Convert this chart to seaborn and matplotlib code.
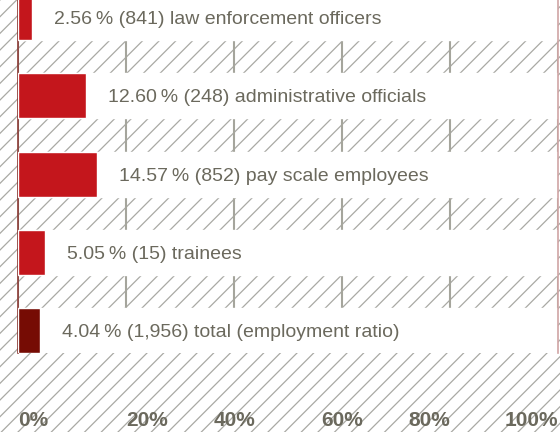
import numpy as np
import pandas as pd
import matplotlib
matplotlib.use("Agg")
import matplotlib.pyplot as plt
import seaborn as sns

# ── Data ────────────────────────────────────────────────────────────────
groups = ["law enforcement officers", "administrative officials",
          "pay scale employees", "trainees", "total (employment ratio)"]
shares = [2.56, 12.60, 14.57, 5.05, 4.04]
counts = ["841", "248", "852", "15", "1,956"]
ticks = [0, 20, 40, 60, 80, 100]
tick_labels = ["0%", "20%", "40%", "60%", "80%", "100%"]

# ── Style ───────────────────────────────────────────────────────────────
sns.set_theme(style="white")
plt.rcParams["font.family"] = ["Liberation Sans", "DejaVu Sans"]
plt.rcParams["hatch.color"] = "#a9a9a4"
plt.rcParams["hatch.linewidth"] = 0.9

TEXT = "#6b695d"
BAR_COLORS = ["#c4161c"] * 4 + ["#760c04"]

df = pd.DataFrame({"group": groups, "share": shares, "full": [100] * len(groups)})

fig = plt.figure(figsize=(5.6, 4.32), dpi=100)
fig.patch.set_facecolor("white")

# hatched backdrop covering the whole figure
bg = fig.add_axes([0, 0, 1, 1], zorder=0)
bg.add_patch(plt.Rectangle((0, 0), 1, 1, transform=bg.transAxes,
                           facecolor="white", edgecolor="#a9a9a4",
                           hatch="//", linewidth=0))
bg.set_axis_off()

ax = fig.add_axes([18 / 560, 79 / 432, 540 / 560, 353 / 432], zorder=1)
ax.patch.set_alpha(0)

sns.barplot(data=df, x="full", y="group", color="white", width=0.575,
            saturation=1, ax=ax, zorder=2)
sns.barplot(data=df, x="share", y="group", hue="group", palette=BAR_COLORS,
            legend=False, width=0.575, saturation=1, ax=ax, zorder=3)

for i, (s, c, g) in enumerate(zip(shares, counts, groups)):
    ax.annotate(f"{s:.2f}\u2009% ({c}) {g}", xy=(s, i), xytext=(16, -1.5),
                textcoords="offset points", va="center", ha="left",
                fontsize=14, color=TEXT, zorder=4)

ax.set_xlim(0, 100)
ax.set_ylim(4.2875, -0.224)
ax.set_xticks(ticks)
ax.set_xticklabels(tick_labels, fontsize=15, fontweight="bold", color=TEXT)
for lbl, ha in zip(ax.get_xticklabels(),
                   ["left", "left", "center", "center", "right", "right"]):
    lbl.set_ha(ha)
ax.tick_params(axis="x", length=0, pad=42)
ax.set_yticks([])
ax.set_xlabel("")
ax.set_ylabel("")

ax.grid(axis="x", color="#a5a59c", linewidth=1.5, zorder=1)
ax.set_axisbelow(True)
for side in ["top", "bottom"]:
    ax.spines[side].set_visible(False)
ax.spines["left"].set_color("#8a3a34")
ax.spines["left"].set_linewidth(1.2)
ax.spines["right"].set_color("#cfa4a4")
ax.spines["right"].set_linewidth(1.2)

fig.savefig("out.png", dpi=100)
